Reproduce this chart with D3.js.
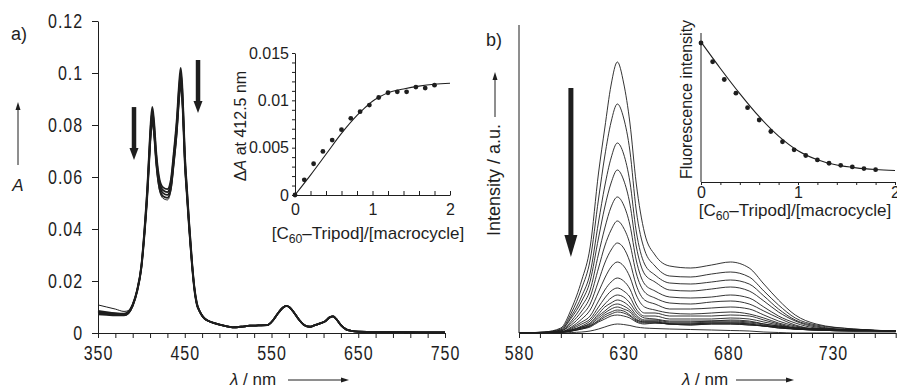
<!DOCTYPE html>
<html>
<head>
<meta charset="utf-8">
<script src="https://cdn.jsdelivr.net/npm/d3@7"></script>
<style>
  body { margin: 0; background: #fff; }
  svg { display: block; }
  text { font-family: "Liberation Sans", Arial, sans-serif; fill: #1e1e1e; }
  .main-tick text { font-size: 20px; letter-spacing: 1.2px; }
  .inset-tick text { font-size: 16px; }
  .domain, .tick line { stroke: #1e1e1e; }
</style>
</head>
<body>
<div id="chart"></div>
<script>
// ---------- panel a: absorption spectra ----------
const absWl = [350,360,370,380,385,390,395,400,404,407,409,411,412.6,414.5,417,421,425,430,434,437.5,441,443.5,445.3,447,448.5,450,452.5,455,458.5,461,464,467,471,478,485,495,505,515,525,535,545,552,558,563,567,571,576,582,588,594,600,606,612,617,621,625,630,636,642,650,670,700,750];
const absA = [.0085,.0080,.0076,.0074,.0082,.0110,.0165,.0260,
  .0420,.0570,.0700,.0820,.0870,.0820,.0700,.0590,.0560,.0553,.0590,.0700,.0830,.0960,.1020,.0960,.0840,.0700,.0560,.0430,.0270,.0180,.0115,
  .0085,.0062,.0045,.0037,.0028,.0022,.0024,.0028,.0029,.0030,.0050,.0078,.0097,.0104,.0098,.0078,.0050,.0030,.0024,.0030,.0037,.0045,.0060,.0064,.0052,.0030,.0014,.0008,.0005,.0004,.0003,.0002];
const absB = [.0080,.0076,.0073,.0071,.0079,.0107,.0162,.0256,
  .0412,.0559,.0686,.0804,.0853,.0804,.0686,.0578,.0549,.0542,.0578,.0686,.0813,.0941,.1000,.0941,.0823,.0686,.0549,.0421,.0265,.0176,.0113,
  .0085,.0062,.0045,.0037,.0028,.0022,.0024,.0028,.0029,.0030,.0050,.0078,.0097,.0104,.0098,.0078,.0050,.0030,.0024,.0030,.0037,.0045,.0060,.0064,.0052,.0030,.0014,.0008,.0005,.0004,.0003,.0002];
const absC = [.0076,.0073,.0070,.0069,.0077,.0105,.0160,.0253,
  .0403,.0547,.0672,.0787,.0835,.0787,.0672,.0566,.0538,.0531,.0566,.0672,.0797,.0922,.0979,.0922,.0806,.0672,.0538,.0413,.0259,.0173,.0110,
  .0084,.0062,.0045,.0037,.0028,.0022,.0024,.0028,.0029,.0030,.0050,.0078,.0097,.0104,.0098,.0078,.0050,.0030,.0024,.0030,.0037,.0045,.0060,.0064,.0052,.0030,.0014,.0008,.0005,.0004,.0003,.0002];
const absD = [.0072,.0070,.0068,.0068,.0076,.0104,.0158,.0250,
  .0395,.0536,.0658,.0771,.0818,.0771,.0658,.0555,.0526,.0520,.0555,.0658,.0780,.0902,.0959,.0902,.0790,.0658,.0526,.0404,.0254,.0169,.0108,
  .0084,.0062,.0045,.0037,.0028,.0022,.0024,.0028,.0029,.0030,.0050,.0078,.0097,.0104,.0098,.0078,.0050,.0030,.0024,.0030,.0037,.0045,.0060,.0064,.0052,.0030,.0014,.0008,.0005,.0004,.0003,.0002];
const absE = [.0108,.0100,.0092,.0083,.0086,.0112,.0164,.0255,
  .0389,.0527,.0648,.0759,.0805,.0759,.0648,.0546,.0518,.0512,.0546,.0648,.0768,.0888,.0944,.0888,.0777,.0648,.0518,.0398,.0250,.0167,.0106,
  .0084,.0062,.0045,.0037,.0028,.0022,.0024,.0028,.0029,.0030,.0050,.0078,.0097,.0104,.0098,.0078,.0050,.0030,.0024,.0030,.0037,.0045,.0060,.0064,.0052,.0030,.0014,.0008,.0005,.0004,.0003,.0002];
const absSeries = [absA, absB, absC, absD, absE];
const aXTicks = [350,370,390,410,430,450,470,490,510,530,550,570,590,610,630,650,670,690,710,730,750];
const aXLabels = [350,450,550,650,750];
const aYTicks = [0,0.02,0.04,0.06,0.08,0.1,0.12];

// inset a: delta A at 412.5 nm vs ratio
const ratioPts = [0,0.12,0.24,0.36,0.48,0.60,0.72,0.84,0.96,1.08,1.20,1.32,1.44,1.56,1.68,1.80];
const dAPts = [0,0.0016,0.0033,0.0046,0.0058,0.0069,0.0081,0.0088,0.0095,0.0103,0.0108,0.0109,0.0109,0.0114,0.0113,0.0116];
const dAFitX = [0,0.2,0.4,0.6,0.8,0.9,1.0,1.1,1.2,1.4,1.6,1.8,2.0];
const dAFitY = [0,0.0021,0.0043,0.0065,0.0084,0.0092,0.0099,0.0104,0.0108,0.0112,0.0115,0.0117,0.0118];
const insetXTicks = [0,0.2,0.4,0.6,0.8,1,1.2,1.4,1.6,1.8,2];
const insetXLabels = [0,1,2];
const dAYTicks = [0,.001,.002,.003,.004,.005,.006,.007,.008,.009,.01,.011,.012,.013,.014,.015];
const dAYLabels = [0,0.005,0.01,0.015];

// ---------- panel b: emission spectra ----------
const emWl = [580,592,600,605,610,614,618,621,624,627,630,633,636,640,645,652,662,672,681,690,697,704,712,722,740,760];
const em1  = [0,1,5,24,53,86,160,205,248,271,250,210,150,100,78,67,65,68,71,65,49,33,18,9,4,2];
const em2  = [0,0.9,4,20,45,73,134,177,211,229,215,182,123,83,67,57,56,59,61,56,42,28,15,8,4,2];
const em3  = [0,0.8,3,17,37,60,111,147,175,190,179,151,102,69,58,50,49,51,53,49,37,24,13,7,3,2];
const em4  = [0,0.7,3,15,32,52,95,126,150,163,153,129,87,59,51,43,42,44,46,42,32,21,12,6,3,2];
const em5  = [0,0.5,2,12,27,43,79,105,126,136,128,108,73,49,42,36,35,36,38,35,26,17,10,5,3,2];
const em6  = [0,0.4,2,10,22,36,65,87,103,112,105,89,60,41,35,30,29,31,32,29,22,15,8,4,3,2];
const em7  = [0,0.4,2,8,18,29,52,70,83,90,85,71,48,33,29,24,24,25,26,24,18,12,7,4,3,2];
const em8  = [0,0.3,1,6,14,23,41,55,66,71,67,56,38,26,23,20,19,20,21,19,15,10,6,4,3,2];
const em9  = [0,0.2,1,5,11,17,32,43,51,55,52,44,29,20,20,17,17,17,18,17,13,9,5,4,3,2];
const em10 = [0,0.2,1,4,9,14,26,35,42,45,42,36,24,17,17,14,14,14,15,14,11,8,5,4,3,2];
const em11 = [0,0.2,1,3,7,12,22,29,35,38,36,30,21,15,14,12,12,12,13,12,9,7,5,4,3,2];
const em12 = [0,0.1,1,3,6,10,19,26,30,33,31,26,18,13,13,11,11,12,12,11,9,7,5,4,3,2];
const em13 = [0,0.1,1,3,6,9,17,22,27,29,27,23,16,12,12,10,10,11,11,10,8,6,4,3,3,2];
const em14 = [0,0.1,1,2,5,8,15,20,24,26,24,21,14,11,11,9,9,10,10,9,7,6,4,3,2,2];
const em15 = [0,0.1,1,2,5,7,13,18,21,23,22,18,13,11,11,9,9,10,10,9,7,6,4,3,2,2];
const em16 = [0,0.1,0.5,2,4,7,12,16,19,21,20,17,12,10,10,9,8,9,9,8,7,5,4,3,2,2];
const em17 = [0,0.1,0.5,2,4,6,11,14,17,18,17,15,11,9,10,9,8,9,9,8,7,5,4,3,2,2];
const em18 = [0,0,0,0.5,1,2,4,6,8,9,8.5,7.5,6,5,4.5,4,3.5,3,2.5,2,1,0.5,0,0,0,0];
const emSeries = [em1,em2,em3,em4,em5,em6,em7,em8,em9,em10,em11,em12,em13,em14,em15,em16,em17,em18];
const bXTicks = [580,590,600,610,620,630,640,650,660,670,680,690,700,710,720,730,740,750,760];
const bXLabels = [580,630,680,730];

// inset b: fluorescence intensity vs ratio (a.u.)
const fluoPts = [0.933,0.807,0.688,0.596,0.499,0.416,0.339,0.270,0.216,0.178,0.148,0.126,0.112,0.101,0.090,0.083];
const fluoFitX = [0,0.2,0.4,0.6,0.8,1.0,1.2,1.4,1.6,1.8,2.0];
const fluoFitY = [0.940,0.762,0.593,0.438,0.308,0.210,0.149,0.114,0.095,0.084,0.077];

// ---------- drawing ----------
const W = 897, H = 391;
const ink = '#1e1e1e';
const narrow = 0.8; // squeeze main tick labels like the condensed face of the original
const svg = d3.select('#chart').append('svg').attr('width', W).attr('height', H);

function arrow(g, x1, y1, x2, y2, w, headLen, headHalf) {
  const a = Math.atan2(y2 - y1, x2 - x1);
  const bx = x2 - headLen * Math.cos(a), by = y2 - headLen * Math.sin(a);
  g.append('line').attr('x1', x1).attr('y1', y1).attr('x2', bx).attr('y2', by)
    .attr('stroke', ink).attr('stroke-width', w);
  const px = -Math.sin(a) * headHalf, py = Math.cos(a) * headHalf;
  g.append('path').attr('d', `M${x2},${y2}L${bx + px},${by + py}L${bx - px},${by - py}Z`).attr('fill', ink);
}

function subTitle(g, x, y, size) {
  const t = g.append('text').attr('x', x).attr('y', y).attr('text-anchor', 'middle').style('font-size', size + 'px');
  t.append('tspan').text('[C');
  t.append('tspan').attr('dy', 4).style('font-size', (size * 0.72) + 'px').text('60');
  t.append('tspan').attr('dy', -4).text('\u2013Tripod]/[macrocycle]');
}

function squeeze(axisG) {
  axisG.selectAll('text').each(function () {
    const t = d3.select(this);
    const x = +t.attr('x') || 0;
    t.attr('x', x / narrow).attr('transform', `scale(${narrow},1)`);
  });
}

// panel a
const xA = d3.scaleLinear().domain([350, 750]).range([98, 445]);
const yA = d3.scaleLinear().domain([0, 0.12]).range([333, 21]);
const gA = svg.append('g');

gA.append('g').attr('class', 'main-tick').attr('transform', `translate(0,${yA(0)})`)
  .call(d3.axisBottom(xA).tickValues(aXTicks).tickSize(5).tickSizeOuter(0).tickPadding(8)
    .tickFormat(d => aXLabels.includes(d) ? d : ''))
  .call(squeeze);
gA.append('g').attr('class', 'main-tick').attr('transform', `translate(${xA(350)},0)`)
  .call(d3.axisLeft(yA).tickValues(aYTicks).tickSize(6).tickSizeOuter(0).tickPadding(9)
    .tickFormat(d => String(d)))
  .call(squeeze);

const lineA = d3.line().curve(d3.curveMonotoneX).x((d, i) => xA(absWl[i])).y(d => yA(d));
gA.append('g').selectAll('path').data(absSeries).join('path')
  .attr('d', lineA).attr('fill', 'none').attr('stroke', ink)
  .attr('stroke-width', (d, i) => i === 4 ? 1 : 1.8);

arrow(gA, xA(391.5), yA(0.0869), xA(391.5), yA(0.0665), 4.5, 12, 4.5);
arrow(gA, xA(465.3), yA(0.105), xA(465.3), yA(0.0846), 4.5, 12, 4.5);

gA.append('text').attr('x', 11).attr('y', 40).style('font-size', '18px').text('a)');
gA.append('text').attr('x', 18).attr('y', 191).attr('text-anchor', 'middle')
  .style('font-size', '17px').style('font-style', 'italic').text('A');
arrow(gA, 18, 165, 18, 102, 1, 8, 2.5);
const lamA = gA.append('text').attr('x', 230).attr('y', 385).style('font-size', '17px');
lamA.append('tspan').style('font-style', 'italic').text('\u03bb');
lamA.append('tspan').text(' / nm');
arrow(gA, 288, 380, 349, 380, 1, 8, 2.5);

// inset a
const xIa = d3.scaleLinear().domain([0, 2]).range([295, 450]);
const yIa = d3.scaleLinear().domain([0, 0.015]).range([195, 53]);
const gIa = svg.append('g');
gIa.append('g').attr('class', 'inset-tick').attr('transform', `translate(0,${yIa(0)})`)
  .call(d3.axisBottom(xIa).tickValues(insetXTicks).tickSize(-4).tickSizeOuter(0).tickPadding(9)
    .tickFormat(d => insetXLabels.includes(d) ? d : ''));
gIa.append('g').attr('class', 'inset-tick').attr('transform', `translate(${xIa(0)},0)`)
  .call(d3.axisLeft(yIa).tickValues(dAYTicks).tickSize(3).tickSizeOuter(0).tickPadding(3)
    .tickFormat(d => dAYLabels.some(v => Math.abs(v - d) < 1e-9) ? String(d) : ''));
gIa.append('path').datum(dAFitY)
  .attr('d', d3.line().curve(d3.curveMonotoneX).x((d, i) => xIa(dAFitX[i])).y(d => yIa(d)))
  .attr('fill', 'none').attr('stroke', ink).attr('stroke-width', 1.1);
gIa.append('g').selectAll('circle').data(dAPts).join('circle')
  .attr('cx', (d, i) => xIa(ratioPts[i])).attr('cy', d => yIa(d)).attr('r', 2.4).attr('fill', ink);
gIa.append('text').attr('transform', `translate(246,${(yIa(0) + yIa(0.015)) / 2 + 2}) rotate(-90)`)
  .attr('text-anchor', 'middle').style('font-size', '16px')
  .call(t => {
    t.append('tspan').text('\u0394');
    t.append('tspan').style('font-style', 'italic').text('A');
    t.append('tspan').text(' at 412.5 nm');
  });
subTitle(gIa, 368, 239, 17);

// panel b
const xB = d3.scaleLinear().domain([580, 760]).range([519, 895.7]);
const yB = d3.scaleLinear().domain([0, 308]).range([333, 25]);
const gB = svg.append('g');
gB.append('g').attr('class', 'main-tick').attr('transform', `translate(0,${yB(0)})`)
  .call(d3.axisBottom(xB).tickValues(bXTicks).tickSize(5).tickSizeOuter(0).tickPadding(8)
    .tickFormat(d => bXLabels.includes(d) ? d : ''))
  .call(squeeze);
gB.append('line').attr('x1', xB(580)).attr('x2', xB(580)).attr('y1', yB(0)).attr('y2', yB(308))
  .attr('stroke', ink).attr('stroke-width', 1);

const lineB = d3.line().curve(d3.curveMonotoneX).x((d, i) => xB(emWl[i])).y(d => yB(d));
gB.append('g').selectAll('path').data(emSeries).join('path')
  .attr('d', lineB).attr('fill', 'none').attr('stroke', ink).attr('stroke-width', 0.9);

arrow(gB, xB(604.8), yB(245), xB(604.8), yB(76), 5, 22, 6.5);

gB.append('text').attr('x', 486).attr('y', 46).style('font-size', '18px').text('b)');
gB.append('text').attr('transform', 'translate(500,236) rotate(-90)').style('font-size', '18px')
  .text('Intensity / a.u.');
arrow(gB, 495, 117, 495, 72, 1, 8, 2.5);
const lamB = gB.append('text').attr('x', 682).attr('y', 385).style('font-size', '17px');
lamB.append('tspan').style('font-style', 'italic').text('\u03bb');
lamB.append('tspan').text(' / nm');
arrow(gB, 736, 380, 794, 380, 1, 8, 2.5);

// inset b
const xIb = d3.scaleLinear().domain([0, 2]).range([701, 895]);
const yIb = d3.scaleLinear().domain([0, 1]).range([182, 33]);
const gIb = svg.append('g');
gIb.append('g').attr('class', 'inset-tick').attr('transform', `translate(0,${yIb(0)})`)
  .call(d3.axisBottom(xIb).tickValues(insetXTicks).tickSize(3).tickSizeOuter(0).tickPadding(2)
    .tickFormat(d => insetXLabels.includes(d) ? d : ''));
gIb.append('line').attr('x1', xIb(0)).attr('x2', xIb(0)).attr('y1', yIb(0)).attr('y2', yIb(1))
  .attr('stroke', ink).attr('stroke-width', 1);
gIb.append('path').datum(fluoFitY)
  .attr('d', d3.line().curve(d3.curveMonotoneX).x((d, i) => xIb(fluoFitX[i])).y(d => yIb(d)))
  .attr('fill', 'none').attr('stroke', ink).attr('stroke-width', 1.1);
gIb.append('g').selectAll('circle').data(fluoPts).join('circle')
  .attr('cx', (d, i) => xIb(ratioPts[i])).attr('cy', d => yIb(d)).attr('r', 2.4).attr('fill', ink);
gIb.append('text').attr('transform', `translate(692,${(yIb(0) + yIb(1)) / 2 - 8}) rotate(-90)`)
  .attr('text-anchor', 'middle').style('font-size', '16px').text('Fluorescence intensity');
subTitle(gIb, 795, 216, 17);
</script>
</body>
</html>
